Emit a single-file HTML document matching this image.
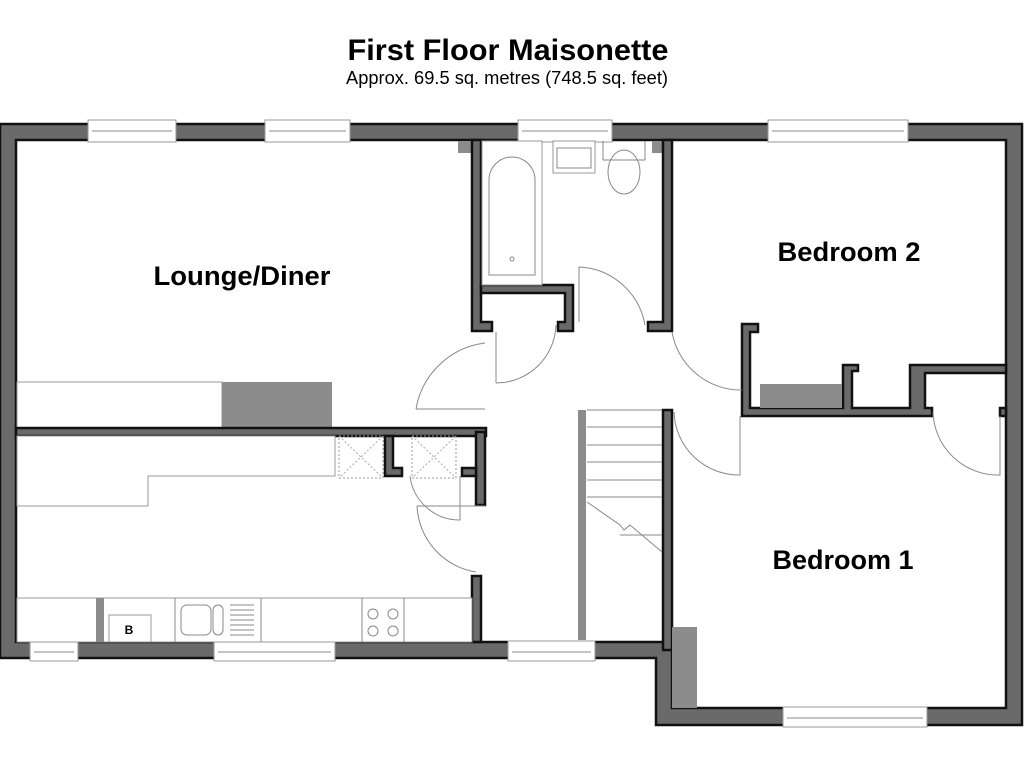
<!DOCTYPE html>
<html><head><meta charset="utf-8"><style>
html,body{margin:0;padding:0;background:#fff;width:1024px;height:768px;overflow:hidden}
svg{display:block}
text{font-family:"Liberation Sans",sans-serif;fill:#000}
.w{fill:#6a6a6a;stroke:#111;stroke-width:2.5}
.l{fill:none;stroke:#888;stroke-width:1}
.win{fill:#fff;stroke:#999;stroke-width:1}
.g{fill:#8c8c8c}
</style></head><body>
<svg width="1024" height="768" viewBox="0 0 1024 768">
<text x="508" y="60" text-anchor="middle" font-size="30" font-weight="bold" textLength="321" lengthAdjust="spacingAndGlyphs">First Floor Maisonette</text>
<text x="507" y="84" text-anchor="middle" font-size="18" textLength="322" lengthAdjust="spacingAndGlyphs">Approx. 69.5 sq. metres (748.5 sq. feet)</text>

<path class="w" d="M0,124 H1022 V725 H656 V658 H0 Z M16,140 V642 H672 V708 H1006 V140 Z" fill-rule="evenodd"/>

<rect x="17" y="382" width="205" height="46" fill="#fff" stroke="#999"/>
<rect x="222" y="382" width="110" height="46" class="g"/>
<rect x="458" y="141" width="14" height="12" class="g"/>
<rect x="652" y="141" width="12" height="12" class="g"/>

<rect class="w" x="16" y="428" width="470" height="8"/>
<path class="w" d="M472,140 H481 V322 H492 V331 H472 Z"/>
<path class="w" d="M481,285 H573 V331 H558 V322 H565 V293 H481 Z"/>
<path class="w" d="M663,140 H672 V331 H648 V322 H663 Z"/>
<path class="w" d="M742,324 H758 V332 H750 V408 H843 V365 H858 V371 H852 V408 H910 V365 H1006 V373 H925 V408 H932 V416 H742 Z"/>
<path class="w" d="M663,410 H672 V650 H663 Z"/>
<path class="w" d="M476,432 H485 V505 H476 Z"/>
<path class="w" d="M385,436 H393 V468 H402 V476 H385 Z"/>
<path class="w" d="M462,468 H476 V476 H462 Z"/>
<path class="w" d="M472,576 H481 V642 H472 Z"/>
<path class="w" d="M1000,408 H1006 V416 H1000 Z"/>

<rect class="win" x="88" y="120" width="88" height="22"/><line class="l" x1="92" y1="131" x2="172" y2="131"/>
<rect class="win" x="265" y="120" width="85" height="22"/><line class="l" x1="269" y1="131" x2="346" y2="131"/>
<rect class="win" x="518" y="120" width="94" height="22"/><line class="l" x1="522" y1="131" x2="608" y2="131"/>
<rect class="win" x="768" y="120" width="140" height="22"/><line class="l" x1="772" y1="131" x2="904" y2="131"/>
<rect class="win" x="30" y="641" width="48" height="20"/><line class="l" x1="34" y1="652" x2="74" y2="652"/>
<rect class="win" x="214" y="641" width="121" height="20"/><line class="l" x1="218" y1="652" x2="331" y2="652"/>
<rect class="win" x="508" y="641" width="87" height="20"/><line class="l" x1="512" y1="652" x2="591" y2="652"/>
<rect class="win" x="783" y="707" width="144" height="20"/><line class="l" x1="787" y1="718" x2="923" y2="718"/>

<rect x="482" y="141" width="60" height="144" fill="#fff" stroke="#999"/>
<path class="l" d="M489,275 V180 A23,23 0 0 1 535,180 V275 Z"/>
<circle class="l" cx="512" cy="259" r="2"/>
<rect x="553" y="141" width="42" height="32" fill="#fff" stroke="#999"/>
<rect x="557" y="148" width="34" height="20" class="l"/>
<path class="l" d="M603,141 V160 M645,141 V160 M603,160 H645"/>
<ellipse class="l" cx="624" cy="172" rx="16" ry="22"/>

<path class="l" d="M416,409 A80,80 0 0 1 485,343"/>
<path class="l" d="M416,409 H485"/>
<path class="l" d="M496,383 V332 M496,383 A60,60 0 0 0 556,325"/>
<path class="l" d="M579,267 V322 M579,267 A70,70 0 0 1 645,325"/>
<path class="l" d="M672,332 A70,70 0 0 0 742,390"/>
<path class="l" d="M674,412 A65,65 0 0 0 740,475 V416"/>
<path class="l" d="M933,412 A65,65 0 0 0 1000,475 V416"/>
<path class="l" d="M410,476 A50,50 0 0 0 460,520 V476"/>
<path class="l" d="M417,506 A70,70 0 0 0 476,572"/>
<path class="l" d="M417,506 H485"/>

<rect x="578" y="410" width="8" height="230" class="g"/>
<path class="l" d="M587,410 H662 M587,427 H662 M587,445 H662 M587,462 H662 M587,480 H662 M587,497 H662 M587,502 L620,525 L624,530 L630,525 L662,552 M620,535 H662"/>

<path d="M17,436 H335 V476 H148 V506 H17 Z" fill="#fff" stroke="#999"/>
<rect x="339" y="436" width="44" height="42" fill="none" stroke="#999" stroke-dasharray="2,2"/>
<path d="M339,436 L383,478 M383,436 L339,478" stroke="#aaa" stroke-dasharray="2,2"/>
<rect x="412" y="436" width="44" height="42" fill="none" stroke="#999" stroke-dasharray="2,2"/>
<path d="M412,436 L456,478 M456,436 L412,478" stroke="#aaa" stroke-dasharray="2,2"/>
<rect x="17" y="598" width="455" height="44" fill="#fff" stroke="#999"/>
<rect x="96" y="598" width="8" height="44" class="g"/>
<rect x="109" y="615" width="42" height="27" fill="#fff" stroke="#999"/>
<text x="129" y="634" text-anchor="middle" font-size="12" font-weight="bold">B</text>
<path class="l" d="M175,598 V642 M261,598 V642 M362,598 V642 M404,598 V642"/>
<rect x="181" y="605" width="30" height="30" rx="6" class="l"/>
<rect x="213" y="605" width="10" height="30" rx="5" class="l"/>
<path class="l" d="M230,605 H254 M230,610 H254 M230,615 H254 M230,620 H254 M230,625 H254 M230,630 H254 M230,635 H254"/>
<circle class="l" cx="373" cy="614" r="5"/><circle class="l" cx="393" cy="614" r="5"/>
<circle class="l" cx="373" cy="631" r="5"/><circle class="l" cx="393" cy="631" r="5"/>

<rect x="760" y="384" width="82" height="24" class="g"/>
<rect x="672" y="627" width="25" height="81" class="g"/>

<text x="242" y="285" text-anchor="middle" font-size="27" font-weight="bold" textLength="177" lengthAdjust="spacingAndGlyphs">Lounge/Diner</text>
<text x="849" y="261" text-anchor="middle" font-size="27" font-weight="bold" textLength="143" lengthAdjust="spacingAndGlyphs">Bedroom 2</text>
<text x="843" y="569" text-anchor="middle" font-size="27" font-weight="bold" textLength="141" lengthAdjust="spacingAndGlyphs">Bedroom 1</text>
</svg>
</body></html>
